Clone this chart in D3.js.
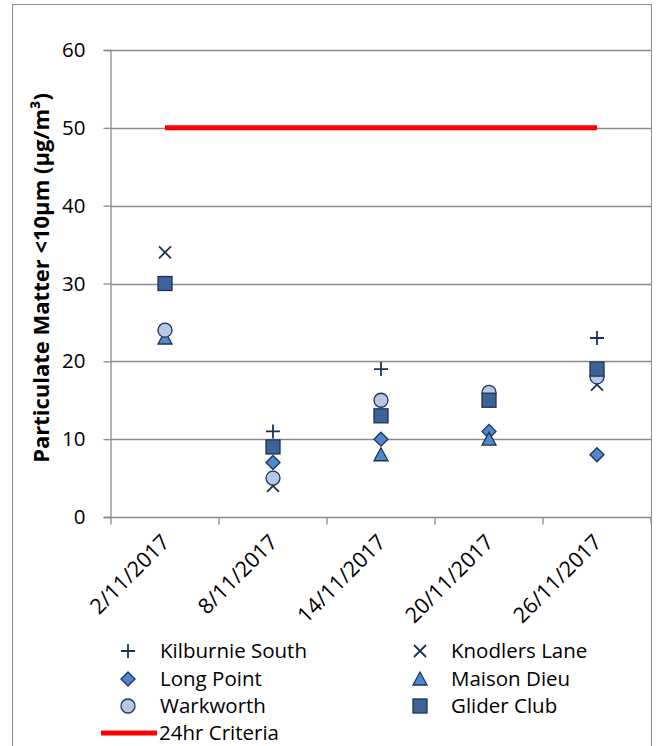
<!DOCTYPE html>
<html><head><meta charset="utf-8">
<script src="https://cdn.jsdelivr.net/npm/d3@7"></script>
<style>body{margin:0;background:#fff}svg{display:block}text{font-family:"Open Sans",Lato,sans-serif}</style>
</head><body>
<script>
const dates = ["2/11/2017","8/11/2017","14/11/2017","20/11/2017","26/11/2017"];
const kilburnieSouth = [null, 11, 19, null, 23];
const knodlersLane   = [34, 4, null, null, 17];
const longPoint      = [null, 7, 10, 11, 8];
const maisonDieu     = [23, null, 8, 10, null];
const warkworth      = [24, 5, 15, 16, 18];
const gliderClub     = [30, 9, 13, 15, 19];
const criteria       = [50, 50, 50, 50, 50];
const yTicks = [0,10,20,30,40,50,60];

const series = [
  {name:"Kilburnie South", values:kilburnieSouth, sym:"plus"},
  {name:"Knodlers Lane", values:knodlersLane, sym:"cross"},
  {name:"Long Point", values:longPoint, sym:"diamond", fill:"#4F88CC"},
  {name:"Maison Dieu", values:maisonDieu, sym:"triangle", fill:"#4F88CC"},
  {name:"Warkworth", values:warkworth, sym:"circle", fill:"#B8C8E4"},
  {name:"Glider Club", values:gliderClub, sym:"square", fill:"#3D6397"}
];
const dark = "#1B3358";
const FS = 20.5;

const W=656,H=746;
const svg=d3.select("body").append("svg").attr("width",W).attr("height",H);
// frame
svg.append("rect").attr("x",12.5).attr("y",4.5).attr("width",639).attr("height",760)
  .attr("fill","none").attr("stroke","#8c8c8c").attr("stroke-width",1);

const x=d3.scaleBand().domain(dates).range([111,651]).paddingInner(0).paddingOuter(0);
const y=d3.scaleLinear().domain([0,60]).range([517,50]);
const grid="#8a8a8a";

// gridlines
svg.append("g").selectAll("line").data(yTicks.filter(d=>d>0)).join("line")
  .attr("x1",111).attr("x2",651).attr("y1",d=>Math.round(y(d))+0.5).attr("y2",d=>Math.round(y(d))+0.5)
  .attr("stroke",grid).attr("stroke-width",1.3);

// y axis
const ya=svg.append("g").attr("transform","translate(110.5,0)")
  .call(d3.axisLeft(y).tickValues(yTicks).tickSize(7).tickPadding(18).tickFormat(d3.format("d")));
ya.select(".domain").attr("stroke",grid).attr("stroke-width",1.3);
ya.selectAll(".tick line").attr("stroke",grid).attr("stroke-width",1.3);
ya.selectAll(".tick text").attr("font-size",FS).attr("fill","#000").attr("font-family","Open Sans");

// x axis
const xb=svg.append("g").attr("transform","translate(0,517.5)");
xb.append("line").attr("x1",104).attr("x2",651).attr("stroke",grid).attr("stroke-width",1.3);
const bounds=dates.map(d=>x(d)).concat([x.range()[1]]);
xb.selectAll("line.t").data(bounds).join("line").attr("class","t")
  .attr("x1",d=>d).attr("x2",d=>d).attr("y1",0).attr("y2",7).attr("stroke",grid).attr("stroke-width",1.3);
xb.selectAll("text").data(dates).join("text")
  .attr("transform",d=>`translate(${x(d)+x.bandwidth()/2+6},${26}) rotate(-45)`)
  .attr("text-anchor","end").attr("font-size",FS+1).attr("fill","#000").text(d=>d);

// y title
svg.append("text").attr("transform","translate(49,278) rotate(-90)")
  .attr("text-anchor","middle").attr("font-size",22).attr("font-weight","bold")
  .text("Particulate Matter <10μm (μg/m³)");

// criteria line
const cx=d=>x(d)+x.bandwidth()/2;
svg.append("path").datum(criteria)
  .attr("d",d3.line().x((d,i)=>cx(dates[i])).y(d=>y(d)))
  .attr("stroke","#FF0000").attr("stroke-width",5).attr("fill","none");

function drawSym(g,sym,fill){
  const s=7;
  if(sym==="plus") g.append("path").attr("d",`M${-s},0H${s}M0,${-s}V${s}`).attr("stroke",dark).attr("stroke-width",1.8).attr("fill","none");
  else if(sym==="cross") g.append("path").attr("d",`M${-6},${-6}L6,6M6,${-6}L-6,6`).attr("stroke",dark).attr("stroke-width",1.8).attr("fill","none");
  else if(sym==="diamond") g.append("path").attr("d",`M0,-7L7,0L0,7L-7,0Z`).attr("fill",fill).attr("stroke",dark).attr("stroke-width",1.3);
  else if(sym==="triangle") g.append("path").attr("d",`M0,-7L7,6L-7,6Z`).attr("fill",fill).attr("stroke",dark).attr("stroke-width",1.3);
  else if(sym==="circle") g.append("circle").attr("r",7).attr("fill",fill).attr("stroke",dark).attr("stroke-width",1.3);
  else if(sym==="square") g.append("rect").attr("x",-7).attr("y",-7).attr("width",14).attr("height",14).attr("fill",fill).attr("stroke",dark).attr("stroke-width",1.3);
}

series.forEach(s=>{
  s.values.forEach((v,i)=>{
    if(v==null) return;
    const g=svg.append("g").attr("transform",`translate(${cx(dates[i])},${y(v)})`);
    drawSym(g,s.sym,s.fill);
  });
});

// legend
const legX=[128,420], legTX=[160,451], legY=[651,679,706];
series.forEach((s,i)=>{
  const col=i%2,row=Math.floor(i/2);
  const g=svg.append("g").attr("transform",`translate(${legX[col]},${legY[row]})`);
  drawSym(g,s.sym,s.fill);
  svg.append("text").attr("x",legTX[col]).attr("y",legY[row]).attr("dy","0.35em")
    .attr("font-size",FS).text(s.name);
});
svg.append("line").attr("x1",101).attr("x2",157).attr("y1",733).attr("y2",733)
  .attr("stroke","#FF0000").attr("stroke-width",5);
svg.append("text").attr("x",159).attr("y",733).attr("dy","0.35em").attr("font-size",FS).text("24hr Criteria");
</script>
</body></html>
